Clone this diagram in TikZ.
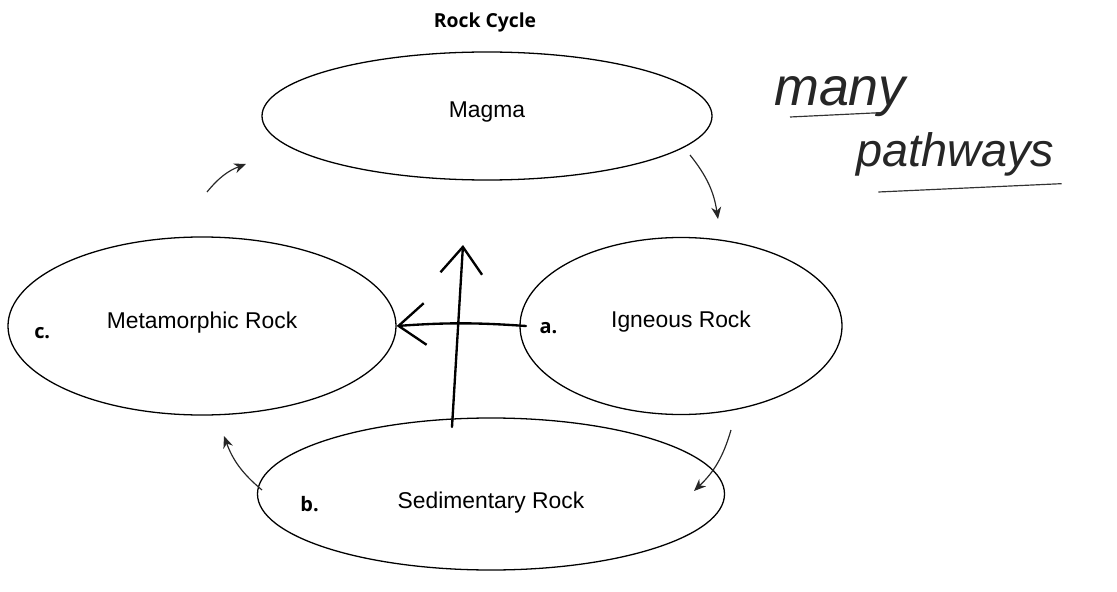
\documentclass[tikz,border=0pt]{standalone}
\usepackage{fontspec}
\setmainfont{Liberation Sans}
\newfontfamily\headfont{Open Sans}
\usepackage{tikz}
\usetikzlibrary{arrows,arrows.meta,shapes.geometric,positioning}

\begin{document}
\begin{tikzpicture}
[
x=0.03cm, y=-0.03cm,
rock/.style={ellipse, draw=black, line width=1.1pt, inner sep=0pt, font=\fontsize{19.5}{22}\selectfont},
tag/.style={font=\headfont\bfseries\fontsize{17}{20}\selectfont, inner sep=0pt},
cycle/.style={-{Stealth[length=3.6mm, width=3mm]}, line width=1pt, black!85},
scrawl/.style={line width=2pt, line cap=round, line join=round, -{Straight Barb[length=8mm, width=12.5mm, line width=2pt]}},
note/.style={font=\itshape\fontsize{46}{50}\selectfont, text=black!85, inner sep=0pt}
]
\useasboundingbox (0,0) rectangle (1117,592);

%Nodes
\node[font=\headfont\bfseries\fontsize{16.5}{20}\selectfont] (title) at (485,22) {Rock Cycle};
\node[rock, minimum width=13.5cm,  minimum height=3.84cm] (magma)   at (487,116) {\raisebox{3pt}[\height][\depth]{Magma}};
\node[rock, minimum width=11.64cm, minimum height=5.34cm] (meta)    at (202,326) {\raisebox{3pt}[\height][\depth]{Metamorphic Rock}};
\node[rock, minimum width=9.66cm,  minimum height=5.31cm] (igneous) at (681,326) {\raisebox{4pt}[\height][\depth]{Igneous Rock}};
\node[rock, minimum width=14.01cm, minimum height=4.56cm] (sed)     at (491,494) {\raisebox{-7pt}[\height][\depth]{Sedimentary Rock}};

\node[tag] (c) [right=0.8cm of meta.west, yshift=-0.2cm]    {c.};
\node[tag] (a) [right=0.6cm of igneous.west, yshift=-0.05cm] {a.};
\node[tag] (b) [right=1.3cm of sed.west, yshift=-0.3cm]     {b.};

\node[note, anchor=base] (many) at (840,106) {many};
\node[note, anchor=base, font=\itshape\fontsize{40}{44}\selectfont] (paths) at (955,167) {pathways};

%Lines
\coordinate (m1) at (207,192);  \coordinate (m2) at (246,164);
\coordinate (g1) at (690,155);  \coordinate (g2) at (718,219);
\coordinate (s1) at (731,430);  \coordinate (s2) at (694,491);
\coordinate (t1) at (262,490);  \coordinate (t2) at (224,436);
\draw[cycle] (m1) to[bend left=15] (m2);
\draw[cycle] (g1) to[bend left=15] (g2);
\draw[cycle] (s1) to[bend left=15] (s2);
\draw[cycle] (t1) to[bend left=15] (t2);

%pen marks
\coordinate (crack) at (452,427);
\coordinate (riser) at (463,245);
\draw[scrawl] (crack) -- (riser);
\draw[scrawl] ([xshift=0.2cm]igneous.west) to[bend right=4] (meta.east);
\draw[line width=1pt, black!80] ([xshift=-1.5cm, yshift=-0.33cm]many.base) -- ([xshift=1.2cm, yshift=-0.2cm]many.base);
\draw[line width=1pt, black!80] ([xshift=-2.3cm, yshift=-0.75cm]paths.base) -- ([xshift=3.2cm, yshift=-0.5cm]paths.base);

\end{tikzpicture}
\end{document}
